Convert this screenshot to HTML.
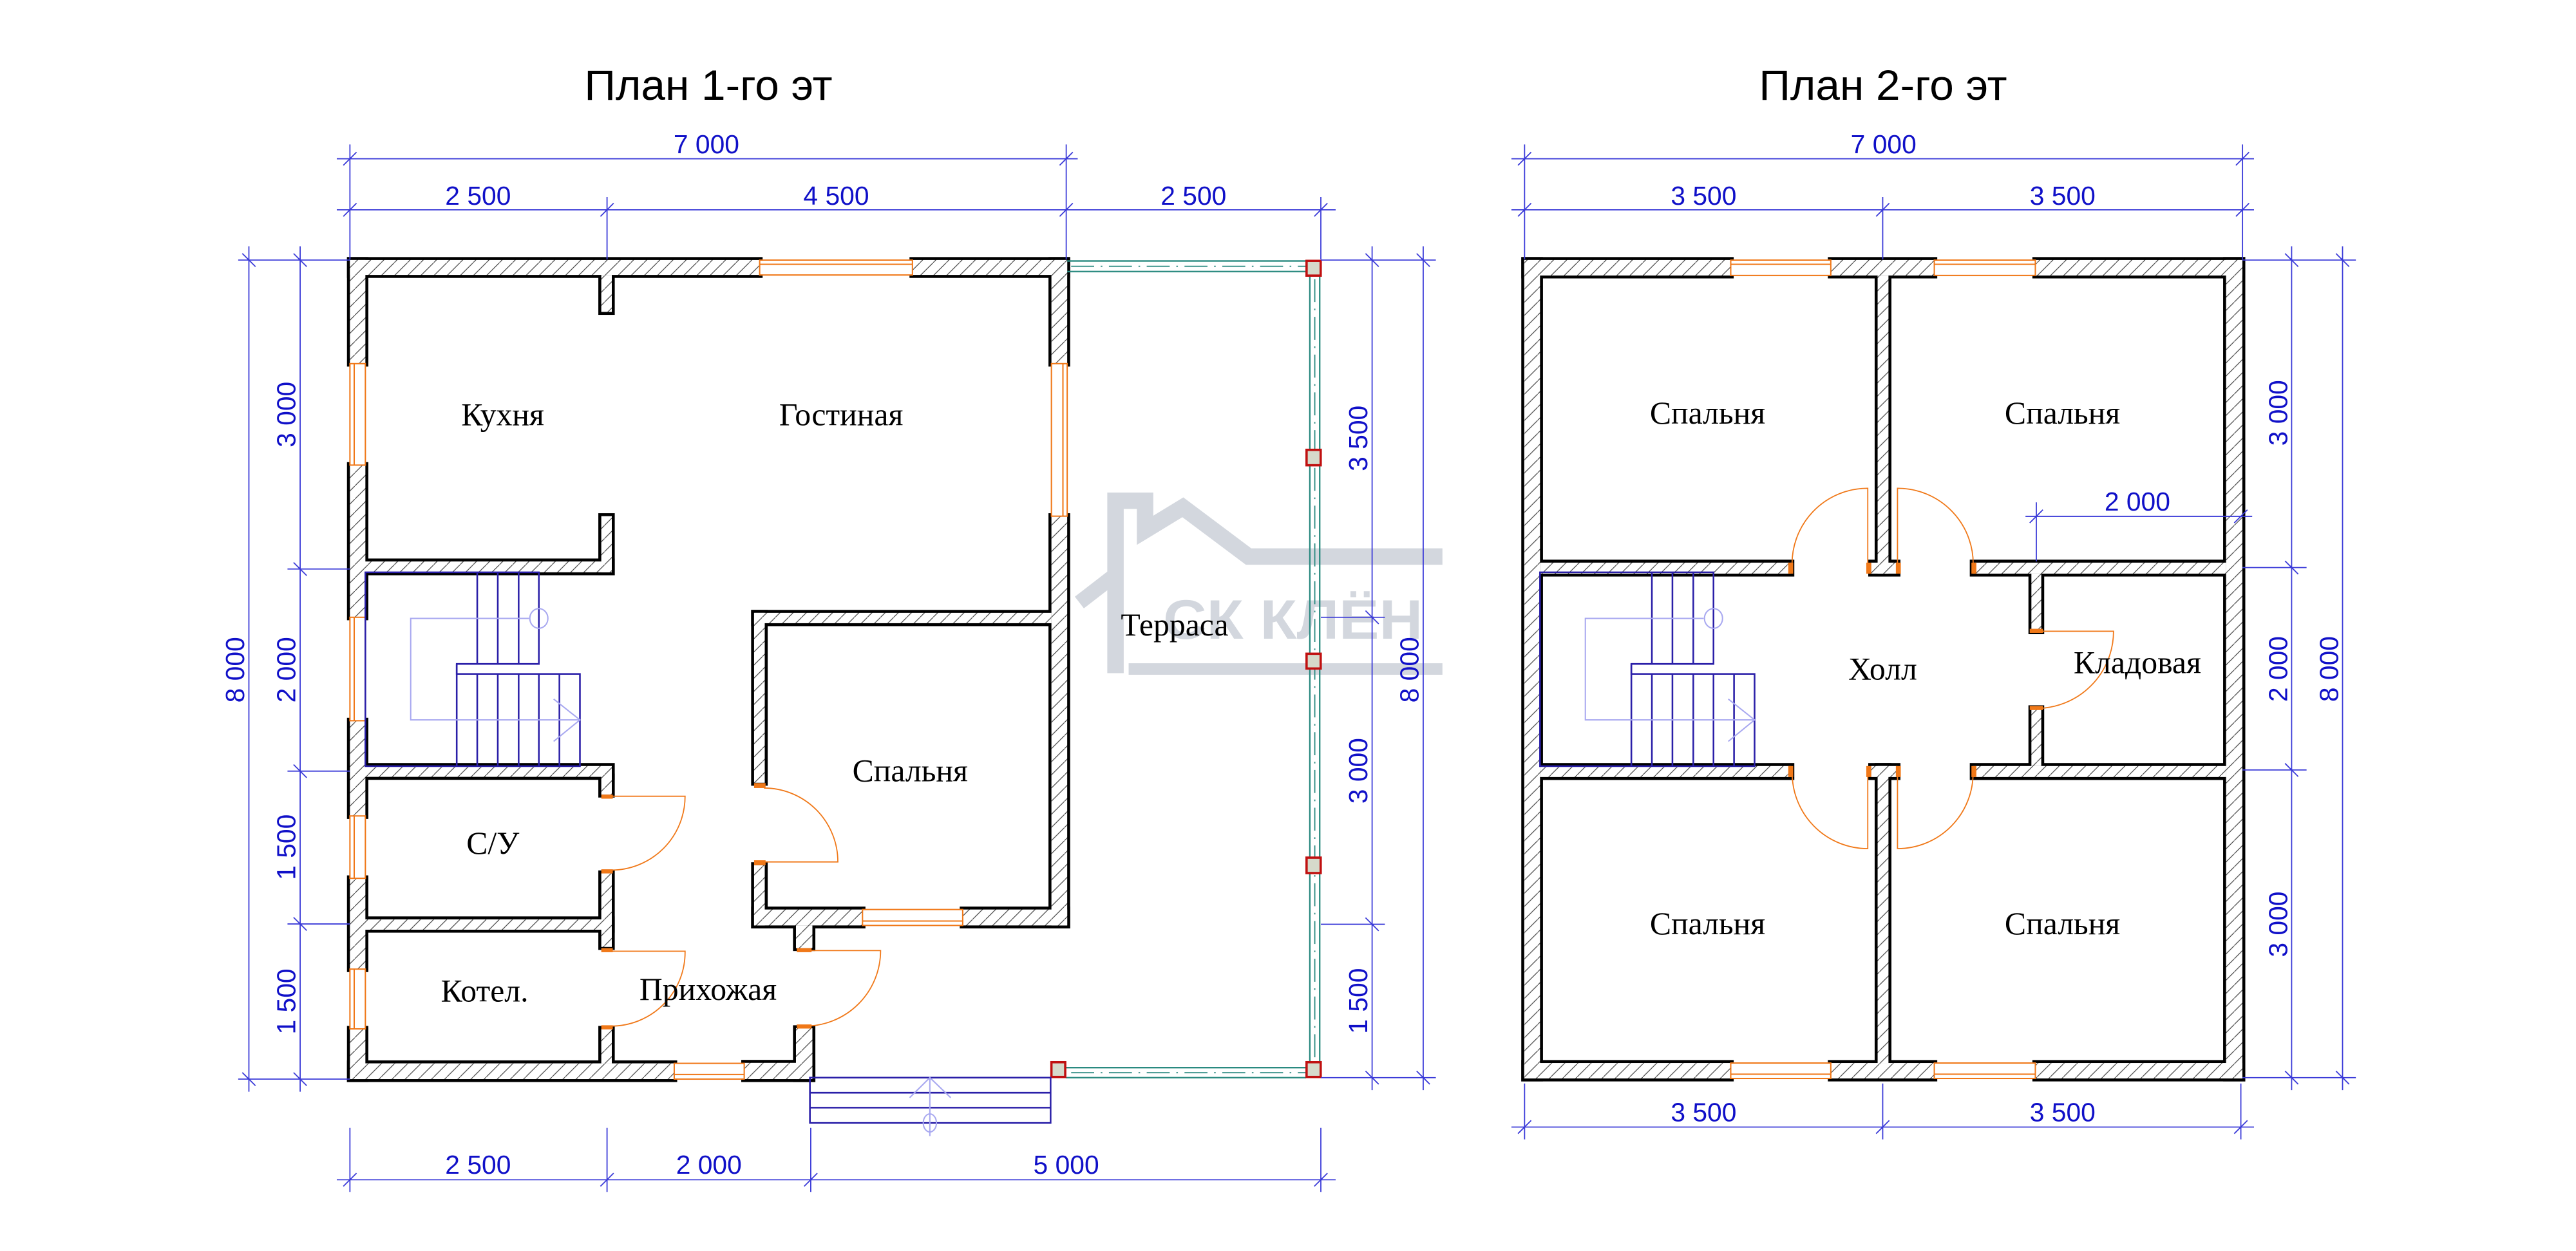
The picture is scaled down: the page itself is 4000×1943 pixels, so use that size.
<!DOCTYPE html>
<html><head><meta charset="utf-8"><style>
html,body{margin:0;padding:0;background:#fff}
svg{display:block}
.lbl{font-family:"Liberation Serif",serif;font-size:19.5px;fill:#000;text-anchor:middle}
.dm{font-family:"Liberation Sans",sans-serif;font-size:16px;fill:#1010c8;text-anchor:middle}
.dl{stroke:#3a3ad8;stroke-width:0.7;fill:none}
.ttl{font-family:"Liberation Sans",sans-serif;font-size:26px;fill:#000}
</style></head><body>
<svg width="4000" height="1943" viewBox="0 0 1568 762" preserveAspectRatio="none" xmlns="http://www.w3.org/2000/svg">
<defs>
<pattern id="h" patternUnits="userSpaceOnUse" width="8" height="8">
<rect width="8" height="8" fill="#fff"/>
<path d="M-1,9 L9,-1" stroke="#444" stroke-width="0.45"/>
</pattern>
<path id="th" d="M-4,4 L4,-4" stroke="#3a3ad8" stroke-width="0.7"/>
<path id="tv" d="M-4,-4 L4,4" stroke="#3a3ad8" stroke-width="0.7"/>
<g id="stair" fill="none">
<path d="M222.4,348.6 H328 V404.4 H278 V410.5 H353 V466.7 H222.4 Z" stroke="#2a1fa8" stroke-width="1"/>
<path d="M290.5,348.6V404.4 M303,348.6V404.4 M315.7,348.6V404.4 M278,404.4V466.7 M290.5,410.5V466.7 M303,410.5V466.7 M315.7,410.5V466.7 M328,410.5V466.7 M340.5,410.5V466.7" stroke="#2a1fa8" stroke-width="1"/>
<path d="M322,376.7 H250 V438.5 H353 M337,425.8 L353,438.5 L337,451.6" stroke="#a8a8f0" stroke-width="0.8"/>
<ellipse cx="328" cy="376.7" rx="5.5" ry="6" stroke="#a8a8f0" stroke-width="0.8"/>
</g>
</defs>
<rect width="1568" height="762" fill="#fff"/>

<!-- watermark -->
<g stroke="#d3d7de" fill="none" stroke-linejoin="miter">
<path d="M679,410 V305 H697 V323 L720,309 L760,339 H878" stroke-width="10"/>
<path d="M679,350 L657,367" stroke-width="9"/>
<path d="M687,407.5 H878" stroke-width="7"/>
</g>
<text x="708" y="389" font-family="Liberation Sans,sans-serif" font-weight="bold" font-size="34" fill="#d3d7de" textLength="158" lengthAdjust="spacingAndGlyphs">СК КЛЁН</text>

<!-- titles -->
<text class="ttl" x="355.7" y="60.8" textLength="151" lengthAdjust="spacingAndGlyphs">План 1-го эт</text>
<text class="ttl" x="1070.7" y="60.8" textLength="151" lengthAdjust="spacingAndGlyphs">План 2-го эт</text>

<!-- ===== PLAN 1 walls ===== -->
<g id="w1">
<g stroke="#000" stroke-width="3.6" fill="#000">
<rect x="213" y="158.4" width="249.4" height="9.1"/><rect x="555.4" y="158.4" width="94.2" height="9.1"/>
<rect x="366" y="167.5" width="6.4" height="22.5"/>
<rect x="640" y="158.4" width="9.6" height="63.1"/><rect x="640" y="314.4" width="9.6" height="249.3"/>
<rect x="213" y="158.4" width="9.4" height="63.1"/><rect x="213" y="283.3" width="9.4" height="92.7"/>
<rect x="213" y="439" width="9.4" height="58"/><rect x="213" y="535" width="9.4" height="55.3"/>
<rect x="213" y="626.7" width="9.4" height="30.6"/>
<rect x="366" y="314.4" width="6.4" height="34.2"/><rect x="222" y="342" width="150.4" height="6.6"/>
<rect x="222" y="466.6" width="150.4" height="6.6"/><rect x="366" y="473" width="6.4" height="11"/>
<rect x="366" y="532" width="6.4" height="44.8"/><rect x="222" y="560" width="150.4" height="6.3"/>
<rect x="366" y="626.7" width="6.4" height="21"/>
<rect x="213" y="647.7" width="197.4" height="9.6"/><rect x="453" y="647.4" width="41.5" height="9.9"/>
<rect x="484.5" y="626.3" width="10" height="31"/>
<rect x="459" y="373.3" width="181" height="6.3"/>
<rect x="459" y="373.3" width="6.5" height="103.5"/><rect x="459" y="527" width="6.5" height="36.7"/>
<rect x="459" y="554" width="66" height="9.7"/><rect x="586" y="554" width="63.6" height="9.7"/>
<rect x="484.5" y="563.7" width="10" height="13.8"/>
</g>
<g fill="url(#h)">
<rect x="213" y="158.4" width="249.4" height="9.1"/><rect x="555.4" y="158.4" width="94.2" height="9.1"/>
<rect x="366" y="167.5" width="6.4" height="22.5"/>
<rect x="640" y="158.4" width="9.6" height="63.1"/><rect x="640" y="314.4" width="9.6" height="249.3"/>
<rect x="213" y="158.4" width="9.4" height="63.1"/><rect x="213" y="283.3" width="9.4" height="92.7"/>
<rect x="213" y="439" width="9.4" height="58"/><rect x="213" y="535" width="9.4" height="55.3"/>
<rect x="213" y="626.7" width="9.4" height="30.6"/>
<rect x="366" y="314.4" width="6.4" height="34.2"/><rect x="222" y="342" width="150.4" height="6.6"/>
<rect x="222" y="466.6" width="150.4" height="6.6"/><rect x="366" y="473" width="6.4" height="11"/>
<rect x="366" y="532" width="6.4" height="44.8"/><rect x="222" y="560" width="150.4" height="6.3"/>
<rect x="366" y="626.7" width="6.4" height="21"/>
<rect x="213" y="647.7" width="197.4" height="9.6"/><rect x="453" y="647.4" width="41.5" height="9.9"/>
<rect x="484.5" y="626.3" width="10" height="31"/>
<rect x="459" y="373.3" width="181" height="6.3"/>
<rect x="459" y="373.3" width="6.5" height="103.5"/><rect x="459" y="527" width="6.5" height="36.7"/>
<rect x="459" y="554" width="66" height="9.7"/><rect x="586" y="554" width="63.6" height="9.7"/>
<rect x="484.5" y="563.7" width="10" height="13.8"/>
</g>
</g>

<!-- windows plan 1 -->
<g fill="#fff" stroke="#f07818" stroke-width="0.8">
<rect x="462.4" y="158.4" width="93" height="9.1"/><path d="M462.4,161 H555.4"/>
<rect x="640" y="221.5" width="9.6" height="92.9"/><path d="M647,221.5 V314.4"/>
<rect x="213" y="221.5" width="9.4" height="61.8"/><path d="M215.6,221.5 V283.3"/>
<rect x="213" y="376" width="9.4" height="63"/><path d="M215.6,376 V439"/>
<rect x="213" y="497" width="9.4" height="38"/><path d="M215.6,497 V535"/>
<rect x="213" y="590.3" width="9.4" height="36.4"/><path d="M215.6,590.3 V626.7"/>
<rect x="410.4" y="647.7" width="42.6" height="9.6"/><path d="M410.4,654.5 H453"/>
<rect x="525" y="554" width="61" height="9.7"/><path d="M525,561 H586"/>
</g>

<use href="#stair"/>

<!-- doors plan 1 -->
<g fill="none" stroke="#f07818" stroke-width="0.7">
<path d="M465,525 H510 A45,45 0 0 0 465,480" />
<path d="M372,485 H417 A45,45 0 0 1 372,530" />
<path d="M372,579.4 H417 A45,45 0 0 1 372,625" />
<path d="M490,579 H536 A46,46 0 0 1 490,625" />
</g>
<g fill="#f07818">
<rect x="459" y="477" width="7" height="3"/><rect x="459" y="524" width="7" height="3"/>
<rect x="366" y="484" width="7" height="2.5"/><rect x="366" y="529.5" width="7" height="2.5"/>
<rect x="366" y="577.5" width="7" height="2.5"/><rect x="366" y="624.5" width="7" height="2.5"/>
<rect x="485" y="577.5" width="9" height="2.5"/><rect x="485" y="624" width="9" height="2.5"/>
</g>

<!-- terrace -->
<g fill="none" stroke="#2a8a80" stroke-width="0.9">
<path d="M649.6,159 H795 M649.6,165.4 H795"/>
<path d="M797.3,167 V647 M803.3,167 V647"/>
<path d="M648.7,650.3 H795 M648.7,656.4 H795"/>
</g>
<g fill="none" stroke="#2a8a80" stroke-width="0.7" stroke-dasharray="14,4,1,4">
<path d="M652,162.2 H795"/><path d="M800.3,170 V647"/><path d="M652,653.4 H795"/>
</g>
<g fill="#d6dacb" stroke="#c01010" stroke-width="1.4">
<rect x="795.3" y="158.9" width="8.6" height="9"/>
<rect x="795.3" y="274" width="8.6" height="9.4"/>
<rect x="795.3" y="398.2" width="8.6" height="9"/>
<rect x="795.3" y="522.4" width="8.6" height="9.4"/>
<rect x="795.3" y="647" width="8.6" height="9"/>
<rect x="640" y="647" width="8.4" height="9"/>
</g>

<!-- porch -->
<g fill="none" stroke="#2a1fa8" stroke-width="1">
<rect x="493" y="656.4" width="146.5" height="27.6"/>
<path d="M493,665.6 H639.5 M493,674.7 H639.5"/>
</g>
<g fill="none" stroke="#a8a8f0" stroke-width="0.8">
<path d="M566,656.4 V692 M553.7,668.6 L566,656.4 L578.7,668.6"/>
<ellipse cx="566" cy="684" rx="4" ry="5.5"/>
</g>

<!-- labels plan 1 -->
<text class="lbl" x="306" y="259">Кухня</text>
<text class="lbl" x="512" y="259">Гостиная</text>
<text class="lbl" x="554" y="476">Спальня</text>
<text class="lbl" x="300" y="520">С/У</text>
<text class="lbl" x="295" y="610">Котел.</text>
<text class="lbl" x="431" y="609">Прихожая</text>
<text class="lbl" x="715" y="387">Терраса</text>

<!-- ===== PLAN 2 walls ===== -->
<g stroke="#000" stroke-width="3.6" fill="#000">
<rect x="927.8" y="158.4" width="125.7" height="9.4"/><rect x="1114.4" y="158.4" width="63" height="9.4"/><rect x="1238.9" y="158.4" width="126" height="9.4"/>
<rect x="927.8" y="647.5" width="125.7" height="9.4"/><rect x="1114.4" y="647.5" width="63" height="9.4"/><rect x="1238.9" y="647.5" width="126" height="9.4"/>
<rect x="927.8" y="158.4" width="9.6" height="498.5"/><rect x="1355" y="158.4" width="9.9" height="498.5"/>
<rect x="1142.9" y="167.8" width="6.6" height="181.6"/><rect x="1139" y="342.7" width="16" height="6.7"/>
<rect x="1142.9" y="466.6" width="6.6" height="181"/><rect x="1139" y="466.6" width="16" height="6.7"/>
<rect x="937.4" y="342.7" width="153" height="6.7"/><rect x="1200.8" y="342.7" width="154.2" height="6.7"/>
<rect x="937.4" y="466.6" width="153" height="6.7"/><rect x="1200.8" y="466.6" width="154.2" height="6.7"/>
<rect x="1236.5" y="349.4" width="6" height="35.1"/><rect x="1236.5" y="431.4" width="6" height="35.2"/>
</g>
<g fill="url(#h)">
<rect x="927.8" y="158.4" width="125.7" height="9.4"/><rect x="1114.4" y="158.4" width="63" height="9.4"/><rect x="1238.9" y="158.4" width="126" height="9.4"/>
<rect x="927.8" y="647.5" width="125.7" height="9.4"/><rect x="1114.4" y="647.5" width="63" height="9.4"/><rect x="1238.9" y="647.5" width="126" height="9.4"/>
<rect x="927.8" y="158.4" width="9.6" height="498.5"/><rect x="1355" y="158.4" width="9.9" height="498.5"/>
<rect x="1142.9" y="167.8" width="6.6" height="181.6"/><rect x="1139" y="342.7" width="16" height="6.7"/>
<rect x="1142.9" y="466.6" width="6.6" height="181"/><rect x="1139" y="466.6" width="16" height="6.7"/>
<rect x="937.4" y="342.7" width="153" height="6.7"/><rect x="1200.8" y="342.7" width="154.2" height="6.7"/>
<rect x="937.4" y="466.6" width="153" height="6.7"/><rect x="1200.8" y="466.6" width="154.2" height="6.7"/>
<rect x="1236.5" y="349.4" width="6" height="35.1"/><rect x="1236.5" y="431.4" width="6" height="35.2"/>
</g>
<g fill="#fff" stroke="#f07818" stroke-width="0.8">
<rect x="1053.5" y="158.4" width="60.9" height="9.4"/><path d="M1053.5,161 H1114.4"/>
<rect x="1177.4" y="158.4" width="61.5" height="9.4"/><path d="M1177.4,161 H1238.9"/>
<rect x="1053.5" y="647.5" width="60.9" height="9.4"/><path d="M1053.5,654.3 H1114.4"/>
<rect x="1177.4" y="647.5" width="61.5" height="9.4"/><path d="M1177.4,654.3 H1238.9"/>
</g>

<use href="#stair" transform="translate(715,0)"/>

<g fill="none" stroke="#f07818" stroke-width="0.7">
<path d="M1136.9,346 V297.4 A46,46 0 0 0 1090.9,346"/>
<path d="M1155,346 V297.4 A46,46 0 0 1 1201,346"/>
<path d="M1136.9,470 V516.9 A46,46 0 0 1 1090.9,470"/>
<path d="M1155,470 V516.9 A46,46 0 0 0 1201,470"/>
<path d="M1239.5,384.5 H1286.5 A47,47 0 0 1 1239.5,431.5"/>
</g>
<g fill="#f07818">
<rect x="1088.5" y="342.7" width="3" height="6.7"/><rect x="1200" y="342.7" width="3" height="6.7"/>
<rect x="1136" y="342.7" width="3" height="6.7"/><rect x="1154" y="342.7" width="3" height="6.7"/>
<rect x="1088.5" y="466.6" width="3" height="6.7"/><rect x="1200" y="466.6" width="3" height="6.7"/>
<rect x="1136" y="466.6" width="3" height="6.7"/><rect x="1154" y="466.6" width="3" height="6.7"/>
<rect x="1235.5" y="383" width="8" height="2.5"/><rect x="1235.5" y="430" width="8" height="2.5"/>
</g>

<text class="lbl" x="1039.4" y="258">Спальня</text>
<text class="lbl" x="1255.4" y="258">Спальня</text>
<text class="lbl" x="1039.4" y="569">Спальня</text>
<text class="lbl" x="1255.4" y="569">Спальня</text>
<text class="lbl" x="1146" y="414">Холл</text>
<text class="lbl" x="1301" y="410">Кладовая</text>

<!-- ===== DIMENSIONS PLAN 1 ===== -->
<g class="dl">
<path d="M205,96.7 H656 M205,127.8 H813"/>
<path d="M213,88 V158 M369.5,120 V158 M649,88 V158 M804,120 V158"/>
<path d="M151.5,150 V665 M182.7,150 V665"/>
<path d="M145,158.4 H213 M175,346.6 H213 M175,469.7 H213 M175,562.8 H213 M145,657.3 H213"/>
<path d="M835.2,150 V664 M866.3,150 V664"/>
<path d="M804,158.4 H874 M804,376 H843 M804,563 H843 M804,656.4 H874"/>
<path d="M205,718.6 H813 M213,687 V726 M369.5,687 V726 M493.5,687 V726 M804,687 V726"/>
</g>
<use href="#th" x="213" y="96.7"/><use href="#th" x="649" y="96.7"/>
<use href="#th" x="213" y="127.8"/><use href="#th" x="369.5" y="127.8"/><use href="#th" x="649" y="127.8"/><use href="#th" x="804" y="127.8"/>
<use href="#tv" x="151.5" y="158.4"/><use href="#tv" x="151.5" y="657.3"/>
<use href="#tv" x="182.7" y="158.4"/><use href="#tv" x="182.7" y="346.6"/><use href="#tv" x="182.7" y="469.7"/><use href="#tv" x="182.7" y="562.8"/><use href="#tv" x="182.7" y="657.3"/>
<use href="#tv" x="835.2" y="158.4"/><use href="#tv" x="835.2" y="376"/><use href="#tv" x="835.2" y="563"/><use href="#tv" x="835.2" y="656.4"/>
<use href="#tv" x="866.3" y="158.4"/><use href="#tv" x="866.3" y="656.4"/>
<use href="#th" x="213" y="718.6"/><use href="#th" x="369.5" y="718.6"/><use href="#th" x="493.5" y="718.6"/><use href="#th" x="804" y="718.6"/>

<text class="dm" x="430" y="93.4">7 000</text>
<text class="dm" x="291" y="124.8">2 500</text>
<text class="dm" x="509" y="124.8">4 500</text>
<text class="dm" x="726.5" y="124.8">2 500</text>
<text class="dm" x="291" y="715">2 500</text>
<text class="dm" x="431.5" y="715">2 000</text>
<text class="dm" x="649" y="715">5 000</text>
<text class="dm" transform="translate(148.5,408) rotate(-90)">8 000</text>
<text class="dm" transform="translate(179.7,252.5) rotate(-90)">3 000</text>
<text class="dm" transform="translate(179.7,408) rotate(-90)">2 000</text>
<text class="dm" transform="translate(179.7,516) rotate(-90)">1 500</text>
<text class="dm" transform="translate(179.7,610) rotate(-90)">1 500</text>
<text class="dm" transform="translate(832.2,267) rotate(-90)">3 500</text>
<text class="dm" transform="translate(832.2,469.5) rotate(-90)">3 000</text>
<text class="dm" transform="translate(832.2,609.7) rotate(-90)">1 500</text>
<text class="dm" transform="translate(863.3,408) rotate(-90)">8 000</text>

<!-- ===== DIMENSIONS PLAN 2 ===== -->
<g class="dl">
<path d="M920,96.7 H1372 M920,127.8 H1372"/>
<path d="M928,88 V158 M1146,120 V158 M1365,88 V158"/>
<path d="M1394.9,150 V664 M1425.9,150 V664"/>
<path d="M1365,158.4 H1434 M1365,345.7 H1404 M1365,469 H1404 M1365,656.4 H1434"/>
<path d="M920,686.5 H1372 M928,660 V694 M1146,660 V694 M1364,660 V694"/>
<path d="M1232.9,314.5 H1370.9 M1239.5,306 V342"/>
</g>
<use href="#th" x="928" y="96.7"/><use href="#th" x="1365" y="96.7"/>
<use href="#th" x="928" y="127.8"/><use href="#th" x="1146" y="127.8"/><use href="#th" x="1365" y="127.8"/>
<use href="#tv" x="1394.9" y="158.4"/><use href="#tv" x="1394.9" y="345.7"/><use href="#tv" x="1394.9" y="469"/><use href="#tv" x="1394.9" y="656.4"/>
<use href="#tv" x="1425.9" y="158.4"/><use href="#tv" x="1425.9" y="656.4"/>
<use href="#th" x="928" y="686.5"/><use href="#th" x="1146" y="686.5"/><use href="#th" x="1364" y="686.5"/>
<use href="#th" x="1239.5" y="314.5"/><use href="#th" x="1364" y="314.5"/>

<text class="dm" x="1146.5" y="93.4">7 000</text>
<text class="dm" x="1037" y="124.8">3 500</text>
<text class="dm" x="1255.5" y="124.8">3 500</text>
<text class="dm" x="1037" y="683">3 500</text>
<text class="dm" x="1255.5" y="683">3 500</text>
<text class="dm" x="1301" y="311">2 000</text>
<text class="dm" transform="translate(1392.2,251.5) rotate(-90)">3 000</text>
<text class="dm" transform="translate(1392.2,407.5) rotate(-90)">2 000</text>
<text class="dm" transform="translate(1392.2,563) rotate(-90)">3 000</text>
<text class="dm" transform="translate(1423.2,407.5) rotate(-90)">8 000</text>
</svg>
</body></html>
